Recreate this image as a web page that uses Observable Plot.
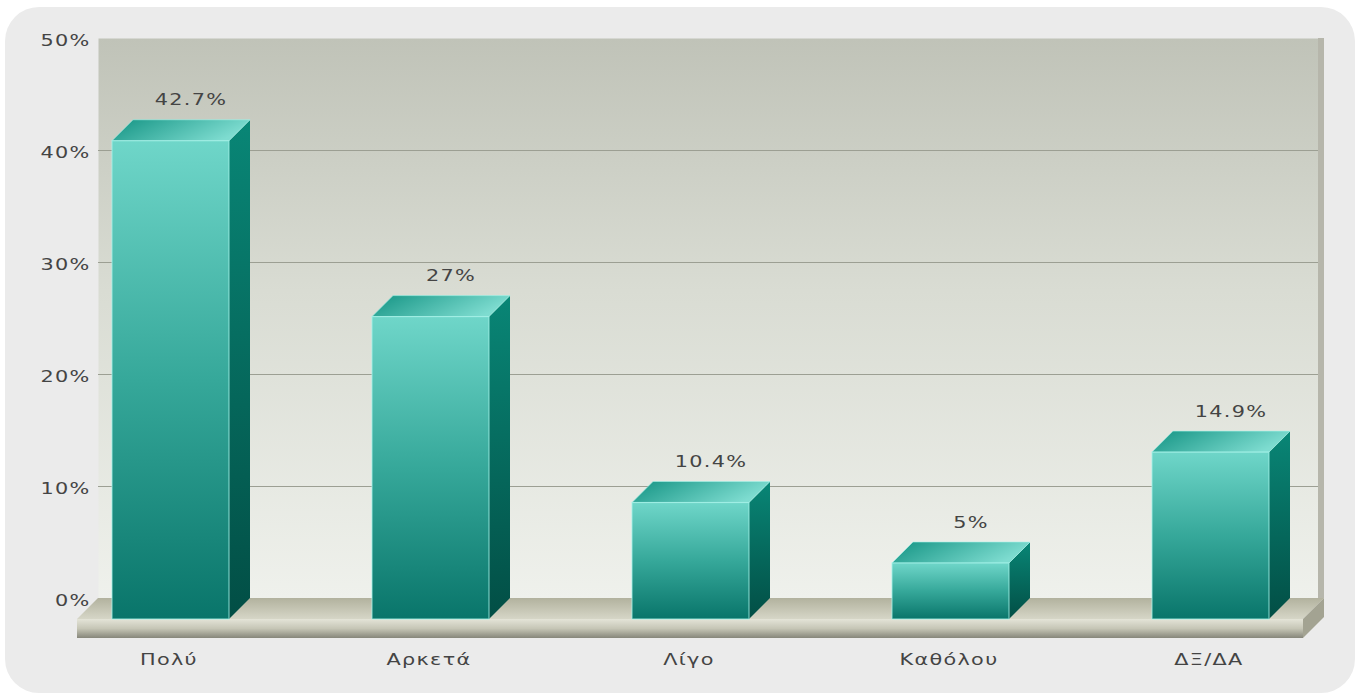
<!DOCTYPE html>
<html>
<head>
<meta charset="utf-8">
<script src="https://cdn.jsdelivr.net/npm/d3@7"></script>
<script src="https://cdn.jsdelivr.net/npm/@observablehq/plot@0.6"></script>
<style>
  html, body { margin: 0; padding: 0; background: #ffffff; }
  #panel { position: absolute; left: 5px; top: 7px; width: 1350px; height: 686px; border-radius: 34px; background: #ebebeb; }
  #chart { position: absolute; left: 0; top: 0; }
  #chart svg text { letter-spacing: 1px; }
</style>
</head>
<body>
<div id="panel"></div>
<div id="chart"></div>
<script>
// ---- data ----
const categories = ["Πολύ", "Αρκετά", "Λίγο", "Καθόλου", "ΔΞ/ΔΑ"];
const values = [42.7, 27, 10.4, 5, 14.9];
const valueLabels = ["42.7%", "27%", "10.4%", "5%", "14.9%"];
const yTicks = [0, 10, 20, 30, 40, 50];
const gridTicks = [10, 20, 30, 40];

const data = categories.map((c, i) => ({cat: c, value: values[i], label: valueLabels[i]}));

// depth of the pseudo-3D effect (pixels)
const DX = 21, DY = 21;
const STRETCH = 1.3; // horizontal widening of the label glyphs

function bw(x) { return typeof x.bandwidth === "function" ? x.bandwidth() : x.bandwidth; }

// gradient definitions
function defs() {
  const svg = d3.create("svg:defs");
  const lg = (id, stops, x2 = 0, y2 = 1) => {
    const g = svg.append("linearGradient").attr("id", id).attr("x1", 0).attr("y1", 0).attr("x2", x2).attr("y2", y2);
    stops.forEach(([o, c]) => g.append("stop").attr("offset", o).attr("stop-color", c));
  };
  lg("wall", [[0, "#c0c3b8"], [0.45, "#d9dcd3"], [1, "#eff1ec"]]);
  lg("front", [[0, "#6fd6c9"], [0.5, "#36a89a"], [1, "#09756a"]]);
  lg("side", [[0, "#098676"], [1, "#024e45"]]);
  lg("top", [[0, "#139383"], [1, "#7edcd0"]], 1, 0.3);
  lg("floorTop", [[0, "#b2b29e"], [1, "#d6d6c7"]]);
  lg("floorFront", [[0, "#e4e4d8"], [0.5, "#c6c6b6"], [1, "#86867a"]]);
  return svg.node();
}

// floor slab + wall side strip, positioned from the y scale and frame
function floor(index, {y}, values_, dims) {
  const g = d3.create("svg:g");
  const l = dims.marginLeft, r = dims.width - dims.marginRight;
  const y0 = y(0), t = 19;
  g.append("rect").attr("x", r - 2).attr("y", dims.marginTop).attr("width", 6).attr("height", y0 - dims.marginTop)
    .attr("fill", "#b6b6ab");
  g.append("path").attr("d", `M${l},${y0}L${r + 4},${y0}L${r - DX + 4},${y0 + DY}L${l - DX},${y0 + DY}Z`).attr("fill", "url(#floorTop)");
  g.append("rect").attr("x", l - DX).attr("y", y0 + DY).attr("width", r - l + 4).attr("height", t).attr("fill", "url(#floorFront)");
  g.append("path").attr("d", `M${r - DX + 4},${y0 + DY}L${r + 4},${y0}L${r + 4},${y0 + t}L${r - DX + 4},${y0 + DY + t}Z`).attr("fill", "#a3a392");
  return g.node();
}

// 3D bars drawn through the x (band) and y scales
function bars3d(index, {x, y}) {
  const g = d3.create("svg:g");
  const w = bw(x);
  for (const d of data) {
    const bx0 = x(d.cat), bx1 = bx0 + w;
    const fx0 = bx0 - DX, fx1 = bx1 - DX;
    const fy0 = y(d.value) + DY, fy1 = y(0) + DY;
    g.append("path").attr("d", `M${fx1},${fy0}L${bx1},${fy0 - DY}L${bx1},${fy1 - DY}L${fx1},${fy1}Z`)
      .attr("fill", "url(#side)");
    g.append("path").attr("d", `M${fx0},${fy0}L${bx0},${fy0 - DY}L${bx1},${fy0 - DY}L${fx1},${fy0}Z`)
      .attr("fill", "url(#top)").attr("stroke", "#a6f3ea").attr("stroke-width", 1).attr("stroke-opacity", 0.6);
    g.append("rect").attr("x", fx0).attr("y", fy0).attr("width", w).attr("height", fy1 - fy0)
      .attr("fill", "url(#front)").attr("stroke", "#a6f3ea").attr("stroke-width", 1.2).attr("stroke-opacity", 0.7);
  }
  return g.node();
}

const chart = Plot.plot({
  width: 1360,
  height: 700,
  marginTop: 38,
  marginBottom: 102,
  marginLeft: 98,
  marginRight: 40,
  style: {background: "transparent", fontFamily: "'DejaVu Sans', Verdana, sans-serif", fontSize: "16px", color: "#444"},
  x: {domain: categories, type: "band", paddingInner: 0.5504, paddingOuter: 0, insetLeft: 33, insetRight: 29, axis: null},
  y: {domain: [0, 50], axis: null},
  marks: [
    defs,
    Plot.frame({fill: "url(#wall)", stroke: null}),
    Plot.ruleY(gridTicks, {stroke: "#9c9f93", strokeWidth: 1}),
    floor,
    bars3d,
    Plot.text(data, {x: "cat", y: "value", text: "label", dy: -20, dx: -1, fill: "#444", fontSize: 16}),
    Plot.text(yTicks, {y: d => d, text: d => d + "%", frameAnchor: "left", textAnchor: "end", dx: -8, dy: 2, fill: "#444", fontSize: 16}),
    Plot.text(data, {x: "cat", text: "cat", frameAnchor: "bottom", dy: 66, dx: -23, fill: "#444", fontSize: 16})
  ]
});

// widen label glyphs around their anchor point
chart.querySelectorAll("text").forEach(t => {
  const tr = t.getAttribute("transform");
  if (tr) {
    t.setAttribute("transform", tr + ` scale(${STRETCH},1)`);
  } else {
    const x = +(t.getAttribute("x") || 0), y = +(t.getAttribute("y") || 0);
    t.removeAttribute("x"); t.removeAttribute("y");
    t.setAttribute("transform", `translate(${x},${y}) scale(${STRETCH},1)`);
  }
});
document.getElementById("chart").appendChild(chart);
</script>
</body>
</html>
